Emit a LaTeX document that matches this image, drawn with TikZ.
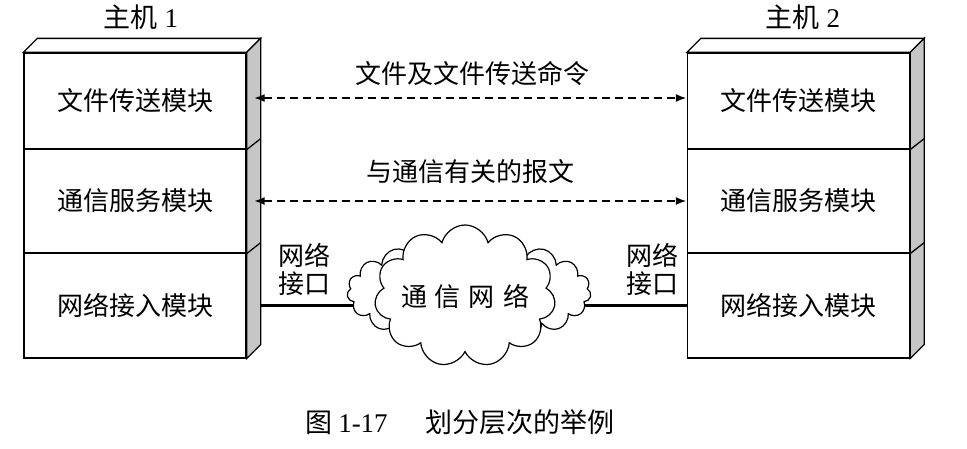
\documentclass[tikz,border=0pt]{standalone}
\usepackage{fontspec}
\setmainfont{Liberation Serif}
\newfontfamily\hzfont{Noto Sans CJK SC}
\usepackage{tikz}
\usetikzlibrary{arrows.meta, positioning, shapes.symbols, backgrounds}

\begin{document}
\begin{tikzpicture}[x=1pt, y=-1pt,
    modBox/.style={rectangle, draw=black, line width=1.3pt, fill=white, minimum width=222pt, inner sep=0pt, font=\hzfont\fontsize{26}{30}\selectfont},
    sideFace/.style={draw=black, line width=1.3pt, fill=gray!45},
    topFace/.style={draw=black, line width=1.3pt, fill=white},
    msgRel/.style={{Latex[length=11pt,width=8pt]}-{Latex[length=11pt,width=8pt]}, dash pattern=on 8pt off 5pt, line width=2.2pt},
    linkLine/.style={line width=2.8pt},
    netCloud/.style={cloud, cloud ignores aspect, draw=black, line width=1.2pt, fill=white, inner sep=0pt},
    hzLabel/.style={font=\hzfont\fontsize{26}{28}\selectfont, align=center}
]
    \useasboundingbox (0,0) rectangle (967,448);

    % Titles
    \node[font=\fontsize{27}{30}\selectfont] (titleA) at (141,17) {{\hzfont 主机} 1};
    \node[font=\fontsize{27}{30}\selectfont] (titleB) at (803,17) {{\hzfont 主机} 2};

    % Host 1 modules
    \node[modBox, minimum height=96pt]  (ftpA)  at (135,101)   {文件传送模块};
    \node[modBox, minimum height=104pt] (commA) at (135,201)   {通信服务模块};
    \node[modBox, minimum height=105pt] (netA)  at (135,305.5) {网络接入模块};

    % Host 2 modules
    \node[modBox, minimum height=96pt]  (ftpB)  at (798.5,101)   {文件传送模块};
    \node[modBox, minimum height=104pt] (commB) at (798.5,201)   {通信服务模块};
    \node[modBox, minimum height=105pt] (netB)  at (798.5,305.5) {网络接入模块};

    % 3D faces of the two stacks
    \foreach \top/\bot in {ftpA/netA, ftpB/netB} {
        \draw[topFace] (\top.north west) -- ++(14,-14) -- ([xshift=14pt,yshift=14pt]\top.north east) -- (\top.north east) -- cycle;
        \draw[sideFace] (\top.north east) -- ++(14,-14) -- ([xshift=14pt,yshift=14pt]\bot.south east) -- (\bot.south east) -- cycle;
    }
    \foreach \row in {ftpA, commA, ftpB, commB}
        \draw[line width=1.3pt] (\row.south east) -- ++(14,-11);

    % Peer messages
    \node[hzLabel] (msgTop) at (472,74)  {文件及文件传送命令};
    \node[hzLabel] (msgMid) at (470,172) {与通信有关的报文};
    \draw[msgRel] ([xshift=7pt,yshift=3pt]ftpA.east) -- ([yshift=3pt]ftpB.west);
    \draw[msgRel] ([xshift=7pt]commA.east) -- (commB.west);

    % Network cloud
    \node[netCloud, cloud puffs=19, minimum width=244pt, minimum height=108pt] (netBack) at (469,292) {};
    \node[netCloud, cloud puffs=11, minimum width=172pt, minimum height=142pt, font=\hzfont\fontsize{26}{30}\selectfont] (netFront) at (465,296) {通\hspace{8pt}信\hspace{8pt}网\hspace{8pt}络};

    % Network interfaces
    \node[hzLabel] (ifA) at (304,269) {网络\\接口};
    \node[hzLabel] (ifB) at (652,269) {网络\\接口};
    \begin{scope}[on background layer]
        \draw[linkLine] ([xshift=14pt]netA.east) -- (netA.east -| netBack.center);
        \draw[linkLine] (netB.west) -- (netB.west -| netBack.center);
    \end{scope}

    % Caption
    \node[font=\fontsize{27}{30}\selectfont] (caption) at (460,422) {{\hzfont 图}\hspace{6pt}1-17\hspace{38pt}{\hzfont 划分层次的举例}};
\end{tikzpicture}
\end{document}
